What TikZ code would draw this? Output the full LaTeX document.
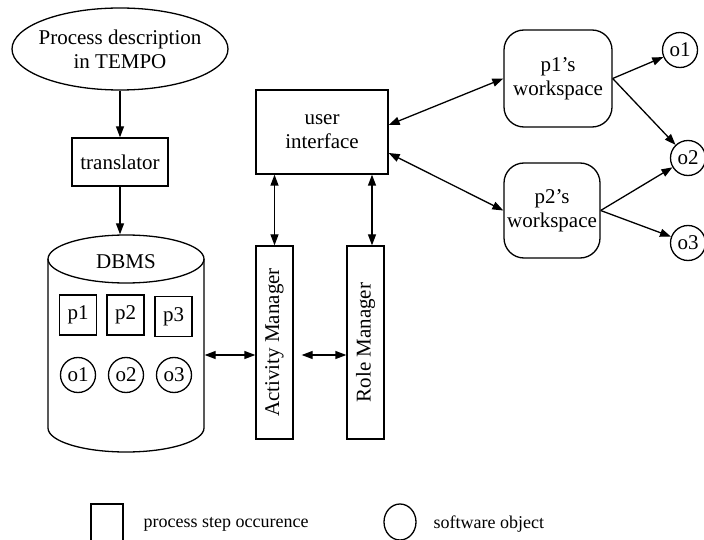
\documentclass[tikz,border=0pt]{standalone}
\usepackage{fontspec}
\usepackage{graphicx}
\setmainfont{Liberation Serif}
\usetikzlibrary{positioning,arrows.meta,shapes.geometric,calc}

\begin{document}
\begin{tikzpicture}[x=1pt,y=-1pt,line width=1.3pt,
    font=\fontsize{21}{24}\selectfont,
    >={Triangle[length=11pt,width=8pt]},
    box/.style={draw,rectangle,inner sep=0pt,align=center},
    obj/.style={draw,circle,inner sep=0pt,minimum size=35pt},
    wsbox/.style={draw,rounded corners=20pt,inner sep=0pt,align=center},
    legtext/.style={anchor=west,inner sep=0pt,font=\fontsize{18}{21}\selectfont}]
    \useasboundingbox (0,0) rectangle (704,540);

    % Process description and translator
    \node[inner sep=0pt,minimum width=216pt,minimum height=82pt,align=center] (desc) at (120,49) {Process description\\in TEMPO};
    \draw (desc.center) ellipse [x radius=108, y radius=41];
    \node[box,minimum width=96pt,minimum height=48pt] (trans) at (120,162) {translator};

    % DBMS cylinder
    \node[inner sep=0pt,minimum width=156pt,minimum height=217pt] (dbms) at (126,343.5) {};
    \draw (126,259) ellipse [x radius=78, y radius=24];
    \draw (48,259) -- (48,428) arc [start angle=180, end angle=0, x radius=78, y radius=24] -- (204,259);
    \node at (126,262) {DBMS};
    \node[box,minimum width=37pt,minimum height=40pt] (p1) at (78,315) {p1};
    \node[box,minimum width=37pt,minimum height=40pt] (p2) at (125.5,315) {p2};
    \node[box,minimum width=37pt,minimum height=40pt] (p3) at (173.5,316.5) {p3};
    \node[obj] (o1) at (78,375) {o1};
    \node[obj] (o2) at (126,375) {o2};
    \node[obj] (o3) at (174,375) {o3};

    % Managers and user interface
    \node[box,minimum width=37pt,minimum height=193pt] (am) at (274.5,342.5) {\rotatebox{90}{Activity Manager}};
    \node[box,minimum width=37pt,minimum height=193pt] (rm) at (365.5,342.5) {\rotatebox{90}{Role Manager}};
    \node[box,minimum width=132pt,minimum height=84pt] (ui) at (322,132) {user\\interface};

    % Workspaces and their objects
    \node[wsbox,minimum width=108pt,minimum height=97pt] (ws1) at (558,78.5) {p1's\\workspace};
    \node[wsbox,minimum width=96pt,minimum height=95pt] (ws2) at (552,210.5) {p2's\\workspace};
    \node[obj] (wo1) at (680,50) {o1};
    \node[obj] (wo2) at (688,158) {o2};
    \node[obj] (wo3) at (688,243) {o3};

    % Connectors
    \draw[->] (desc.south) -- (trans.north);
    \draw[->] (trans.south) -- (trans.south |- dbms.north);
    \draw[<->] (dbms.east |- 0,355) -- (am.west |- 0,355);
    \draw[<->,shorten <=8pt] (am.east |- 0,355) -- (rm.west |- 0,355);
    \draw[<->] (ui.south -| am.north) -- (am.north);
    \draw[<->] ($(ui.south)+(50,0)$) -- ($(rm.north)+(6.5,0)$);
    \draw[<->] ($(ui.east)+(0,-7)$) -- (ws1.west);
    \draw[<->] ($(ui.east)+(0,21)$) -- (ws2.west);
    \draw[->] (ws1.east) -- (wo1);
    \draw[->] (ws1.east) -- (wo2);
    \draw[->] (ws2.east) -- (wo2);
    \draw[->] (ws2.east) -- (wo3);

    % Legend
    \node[box,minimum width=32pt,minimum height=40pt] (legstep) at (107,524) {};
    \node[legtext] (legsteptext) at (143,524) {process step occurence};
    \node[draw,ellipse,inner sep=0pt,minimum width=32pt,minimum height=36pt] (legobj) at (400,522) {};
    \node[legtext] (legobjtext) at (433,524) {software object};
\end{tikzpicture}
\end{document}
